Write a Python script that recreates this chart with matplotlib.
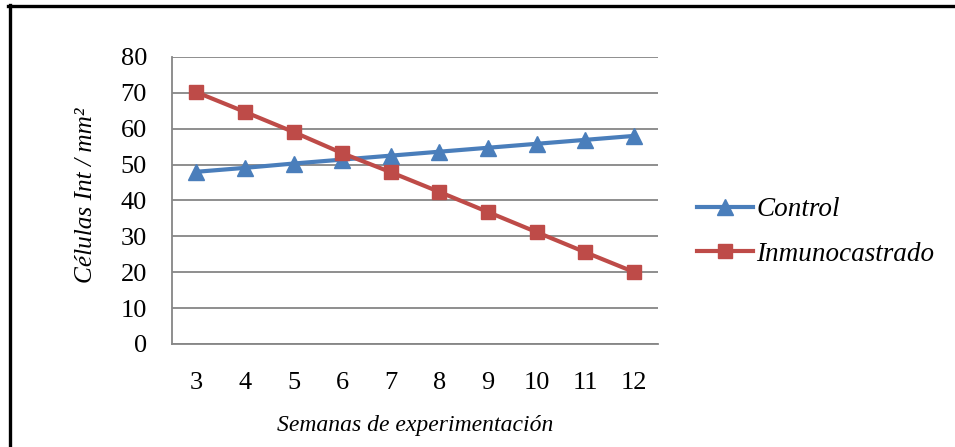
import matplotlib
matplotlib.use("Agg")
import matplotlib.pyplot as plt
from matplotlib.lines import Line2D

weeks = [3, 4, 5, 6, 7, 8, 9, 10, 11, 12]
control = [48.0, 49.1, 50.3, 51.4, 52.5, 53.6, 54.7, 55.8, 56.9, 58.0]
inmuno = [70.2, 64.7, 59.1, 53.2, 47.9, 42.4, 36.8, 31.2, 25.6, 20.1]
yticks = [0, 10, 20, 30, 40, 50, 60, 70, 80]

plt.rcParams['font.family'] = ['Liberation Serif', 'DejaVu Serif']

W, H = 955, 447
fig = plt.figure(figsize=(W / 100, H / 100), dpi=100)
ax = fig.add_axes([172 / W, 1 - 344 / H, (658 - 172) / W, (344 - 57) / H])

blue = '#4A7EBB'
red = '#BE4B48'
ax.plot(weeks, control, color=blue, lw=3, marker='^', markersize=11,
        label='Control', zorder=3)
ax.plot(weeks, inmuno, color=red, lw=3, marker='s', markersize=10,
        label='Inmunocastrado', zorder=3)

ax.set_xlim(2.5, 12.5)
ax.set_ylim(0, 80)
ax.set_yticks(yticks)
ax.set_xticks(weeks)
ax.tick_params(axis='both', length=0, labelsize=19)
ax.tick_params(axis='x', pad=20)
ax.tick_params(axis='y', pad=18)
ax.yaxis.grid(True, color='#868686', lw=1.3)
ax.set_axisbelow(True)
for s in ['top', 'right']:
    ax.spines[s].set_visible(False)
ax.spines['left'].set_color('#868686')
ax.spines['bottom'].set_color('#868686')
ax.spines['left'].set_linewidth(1.3)
ax.spines['bottom'].set_linewidth(1.3)

ax.set_xlabel('Semanas de experimentación', fontsize=17, style='italic', labelpad=15)
ax.set_ylabel('Células Int / mm²', fontsize=18.2, style='italic')
ax.yaxis.set_label_coords(-0.155, 0.52)

leg = fig.legend(loc='center left', bbox_to_anchor=(673 / W, 1 - 232 / H),
                 frameon=False, prop={'size': 19.5, 'style': 'italic'},
                 handlelength=2.05, handletextpad=0.12, labelspacing=0.72)

fig.add_artist(Line2D([8 / W, 1], [1 - 6 / H, 1 - 6 / H], color='black', lw=2.4))
fig.add_artist(Line2D([9.5 / W, 9.5 / W], [0, 1 - 5 / H], color='black', lw=2.4))

fig.savefig('out.png', dpi=100)
